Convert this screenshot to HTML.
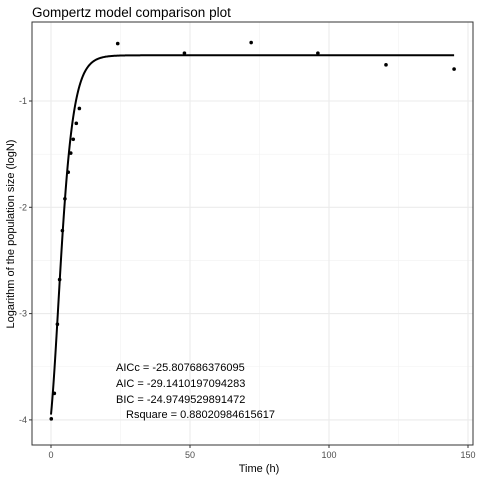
<!DOCTYPE html>
<html><head><meta charset="utf-8"><style>body{margin:0;background:#fff}svg{display:block;font-family:"Liberation Sans",sans-serif}</style></head>
<body>
<svg id="chart" width="480" height="480">
<rect width="480" height="480" fill="#fff"/>
<text x="32" y="17" font-size="13.5" fill="#000">Gompertz model comparison plot</text>
<g id="grid"></g><g id="curve"></g><g id="pts"></g><g id="axes"></g>
<g font-size="11" fill="#000">
<text x="116" y="371">AICc = -25.807686376095</text>
<text x="116" y="387">AIC = -29.1410197094283</text>
<text x="116" y="403">BIC = -24.9749529891472</text>
<text x="126" y="418">Rsquare = 0.88020984615617</text>
</g>
<text x="259" y="472" font-size="11" text-anchor="middle">Time (h)</text>
<text transform="translate(14,234) rotate(-90)" font-size="11" text-anchor="middle">Logarithm of the population size (logN)</text>
</svg>
<script>
const times=[0.1,1.2,2.3,3.1,4.1,5,6.2,7.1,8,9.1,10.2,24,48,72,96,120.5,145];
const logN=[-3.99,-3.75,-3.10,-2.68,-2.22,-1.92,-1.67,-1.49,-1.36,-1.21,-1.07,-0.46,-0.55,-0.45,-0.55,-0.66,-0.70];
const xTicks=[0,50,100,150];
const yTicks=[-1,-2,-3,-4];
const fitY0=-4.3, fitA=3.73, fitMu=0.453, fitLambda=-0.42;
const L=32,R=473,T=22,B=445;
const sx=v=>51+v*(468-51)/150;
const sy=v=>101+(-1-v)*106.3;
const NS="http://www.w3.org/2000/svg";
function mk(p,tag,a){const e=document.createElementNS(NS,tag);for(const k in a)e.setAttribute(k,a[k]);p.appendChild(e);return e;}
const g=document.getElementById('grid'),ax=document.getElementById('axes');
for(const v of [25,75,125]){const l=mk(g,'line',{x1:sx(v),x2:sx(v),y1:T,y2:B,stroke:'#f2f2f2','stroke-width':0.6});}
for(const v of [-1.5,-2.5,-3.5]){const l=mk(g,'line',{x1:L,x2:R,y1:sy(v),y2:sy(v),stroke:'#f2f2f2','stroke-width':0.6});}
for(const v of xTicks){const l=mk(g,'line',{x1:sx(v),x2:sx(v),y1:T,y2:B,stroke:'#ebebeb','stroke-width':1.1});
 const t=mk(ax,'text',{x:sx(v),y:B+13,'font-size':9,fill:'#4d4d4d','text-anchor':'middle'});t.textContent=v;
 mk(ax,'line',{x1:sx(v),x2:sx(v),y1:B,y2:B+3,stroke:'#333'});}
for(const v of yTicks){const l=mk(g,'line',{x1:L,x2:R,y1:sy(v),y2:sy(v),stroke:'#ebebeb','stroke-width':1.1});
 const t=mk(ax,'text',{x:27,y:sy(v)+3,'font-size':9,fill:'#4d4d4d','text-anchor':'end'});t.textContent=v;
 mk(ax,'line',{x1:L-3,x2:L,y1:sy(v),y2:sy(v),stroke:'#333'});}
const fr=mk(ax,'rect',{x:L,y:T,width:R-L,height:B-T,fill:'none',stroke:'#333','stroke-width':1});

const k=fitMu*Math.E/fitA;
let d='';for(let t=0;t<=145;t+=0.25){const y=fitY0+fitA*Math.exp(-Math.exp(k*(fitLambda-t)+1));d+=(d?'L':'M')+sx(t).toFixed(2)+','+sy(y).toFixed(2);}
const c=mk(document.getElementById('curve'),'path',{d:d,fill:'none',stroke:'#000','stroke-width':2});

const pg=document.getElementById('pts');
times.forEach((t,i)=>{const p=mk(pg,'circle',{cx:sx(t),cy:sy(logN[i]),r:1.8,fill:'#000'});

});
</script>
</body></html>
